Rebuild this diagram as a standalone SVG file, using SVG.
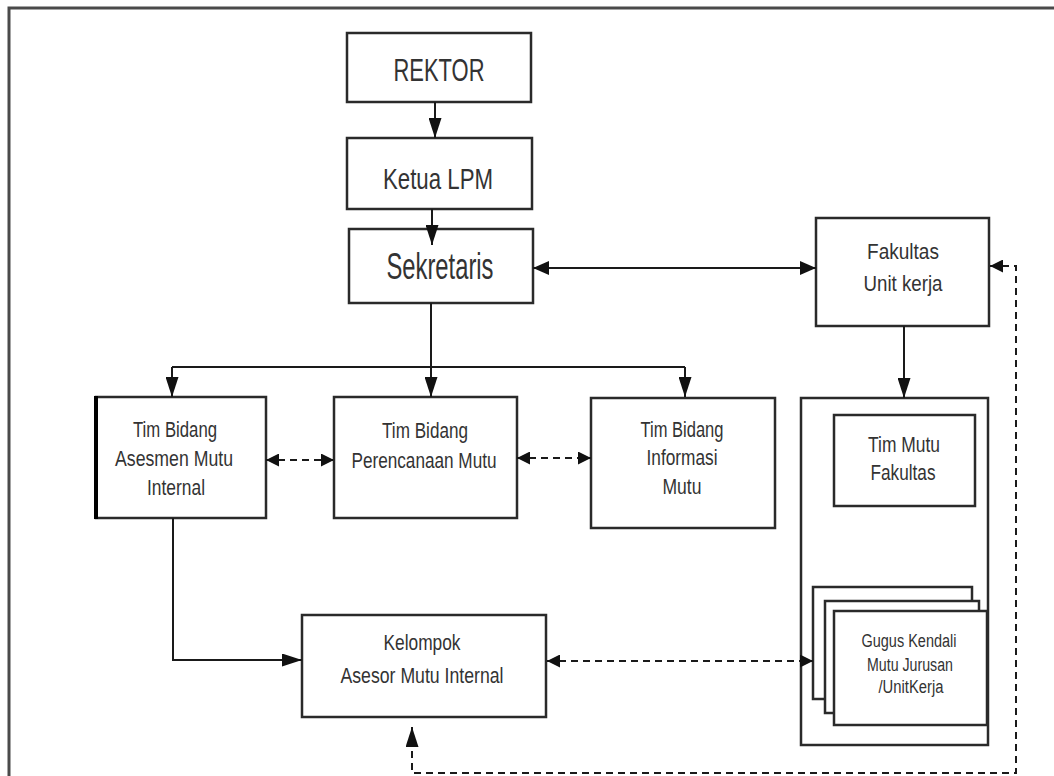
<svg xmlns="http://www.w3.org/2000/svg" width="1054" height="776" viewBox="0 0 1054 776">
  <defs>
    <style>
      .box { fill: #ffffff; stroke: #2a2a2a; stroke-width: 2.5; }
      .frame { fill: none; stroke: #4a4a4a; stroke-width: 3; }
      .lbl { font-family: "Liberation Sans", Arial, sans-serif; fill: #333333; text-anchor: middle; }
      .big { font-size: 32px; }
      .mid { font-size: 22px; }
      .small { font-size: 18px; }
      .wire { fill: none; stroke: #1a1a1a; stroke-width: 2; }
      .dash { fill: none; stroke: #1a1a1a; stroke-width: 2; stroke-dasharray: 7 5; }
    </style>
    <marker id="headLong" viewBox="0 0 20 13" refX="20" refY="6.5" markerWidth="20" markerHeight="13" markerUnits="userSpaceOnUse" orient="auto-start-reverse">
      <path d="M0,0 L20,6.5 L0,13 z" fill="#111111"/>
    </marker>
    <marker id="headMid" viewBox="0 0 16 14" refX="16" refY="7" markerWidth="16" markerHeight="14" markerUnits="userSpaceOnUse" orient="auto-start-reverse">
      <path d="M0,0 L16,7 L0,14 z" fill="#111111"/>
    </marker>
    <marker id="headShort" viewBox="0 0 13 13" refX="13" refY="6.5" markerWidth="13" markerHeight="13" markerUnits="userSpaceOnUse" orient="auto-start-reverse">
      <path d="M0,0 L13,6.5 L0,13 z" fill="#111111"/>
    </marker>
  </defs>

  <rect width="1054" height="776" fill="#ffffff"/>
  <!-- page frame, open at right and bottom -->
  <rect class="frame" x="9" y="8" width="1100" height="820"/>

  <g id="rektor">
    <rect class="box" x="347" y="33" width="184" height="69"/>
    <text class="lbl big" x="439" y="81" textLength="91" lengthAdjust="spacingAndGlyphs">REKTOR</text>
  </g>

  <g id="ketua-lpm">
    <rect class="box" x="347" y="138" width="185" height="71"/>
    <text class="lbl" x="438" y="189" font-size="30" textLength="110" lengthAdjust="spacingAndGlyphs">Ketua LPM</text>
  </g>

  <g id="sekretaris">
    <rect class="box" x="349" y="229" width="184" height="74"/>
    <text class="lbl" x="440" y="279" font-size="36" textLength="107" lengthAdjust="spacingAndGlyphs">Sekretaris</text>
  </g>

  <g id="fakultas">
    <rect class="box" x="816" y="218" width="173" height="108"/>
    <text class="lbl mid" x="903" y="259" textLength="72" lengthAdjust="spacingAndGlyphs">Fakultas</text>
    <text class="lbl mid" x="903" y="291" textLength="79" lengthAdjust="spacingAndGlyphs">Unit kerja</text>
  </g>

  <g id="tim-asesmen">
    <rect class="box" x="96" y="397" width="170" height="121"/>
    <line x1="96" y1="396" x2="96" y2="519" stroke="#000000" stroke-width="4"/>
    <text class="lbl mid" x="175" y="437" textLength="84" lengthAdjust="spacingAndGlyphs">Tim Bidang</text>
    <text class="lbl mid" x="174" y="466" textLength="118" lengthAdjust="spacingAndGlyphs">Asesmen Mutu</text>
    <text class="lbl mid" x="176" y="495" textLength="58" lengthAdjust="spacingAndGlyphs">Internal</text>
  </g>

  <g id="tim-perencanaan">
    <rect class="box" x="334" y="397" width="183" height="121"/>
    <text class="lbl mid" x="425" y="438" textLength="86" lengthAdjust="spacingAndGlyphs">Tim Bidang</text>
    <text class="lbl mid" x="424" y="468" textLength="145" lengthAdjust="spacingAndGlyphs">Perencanaan Mutu</text>
  </g>

  <g id="tim-informasi">
    <rect class="box" x="591" y="398" width="184" height="130"/>
    <text class="lbl mid" x="682" y="437" textLength="83" lengthAdjust="spacingAndGlyphs">Tim Bidang</text>
    <text class="lbl mid" x="682" y="465" textLength="71" lengthAdjust="spacingAndGlyphs">Informasi</text>
    <text class="lbl mid" x="682" y="494" textLength="39" lengthAdjust="spacingAndGlyphs">Mutu</text>
  </g>

  <g id="fakultas-group">
    <rect class="box" x="801" y="398" width="187" height="347"/>
  </g>

  <g id="tim-mutu-fakultas">
    <rect class="box" x="834" y="415" width="141" height="91"/>
    <text class="lbl mid" x="904" y="452" textLength="72" lengthAdjust="spacingAndGlyphs">Tim Mutu</text>
    <text class="lbl mid" x="903" y="480" textLength="65" lengthAdjust="spacingAndGlyphs">Fakultas</text>
  </g>

  <g id="gugus-kendali">
    <rect class="box" x="813" y="587" width="159" height="112"/>
    <rect class="box" x="825" y="601" width="154" height="112"/>
    <rect class="box" x="834" y="611" width="153" height="114"/>
    <text class="lbl small" x="909" y="647" textLength="95" lengthAdjust="spacingAndGlyphs">Gugus Kendali</text>
    <text class="lbl small" x="910" y="671" textLength="86" lengthAdjust="spacingAndGlyphs">Mutu Jurusan</text>
    <text class="lbl small" x="911" y="693" textLength="65" lengthAdjust="spacingAndGlyphs">/UnitKerja</text>
  </g>

  <g id="kelompok-asesor">
    <rect class="box" x="302" y="615" width="244" height="102"/>
    <text class="lbl mid" x="422" y="650" textLength="77" lengthAdjust="spacingAndGlyphs">Kelompok</text>
    <text class="lbl mid" x="422" y="683" textLength="163" lengthAdjust="spacingAndGlyphs">Asesor Mutu Internal</text>
  </g>

  <!-- connectors, drawn over the boxes -->
  <g id="connectors">
    <line class="wire" x1="435" y1="102" x2="435" y2="138" marker-end="url(#headLong)"/>
    <line class="wire" x1="432" y1="209" x2="432" y2="245" marker-end="url(#headLong)"/>
    <line class="wire" x1="533" y1="268" x2="816" y2="268" marker-start="url(#headMid)" marker-end="url(#headMid)"/>
    <path class="wire" d="M431,303 V367 M172,367 H685"/>
    <line class="wire" x1="172" y1="367" x2="172" y2="397" marker-end="url(#headLong)"/>
    <line class="wire" x1="431" y1="367" x2="431" y2="397" marker-end="url(#headLong)"/>
    <line class="wire" x1="685" y1="367" x2="685" y2="397" marker-end="url(#headLong)"/>
    <line class="dash" x1="266" y1="460" x2="334" y2="460" marker-start="url(#headShort)" marker-end="url(#headShort)"/>
    <line class="dash" x1="517" y1="458" x2="591" y2="458" marker-start="url(#headShort)" marker-end="url(#headShort)"/>
    <line class="wire" x1="904" y1="326" x2="904" y2="398" marker-end="url(#headLong)"/>
    <path class="wire" d="M173,518 V660 H302" marker-end="url(#headLong)"/>
    <line class="dash" x1="547" y1="661" x2="813" y2="661" marker-start="url(#headShort)" marker-end="url(#headShort)"/>
    <path class="dash" d="M412,727 V773 H1016 V266 H990" marker-start="url(#headLong)" marker-end="url(#headShort)"/>
  </g>
</svg>
